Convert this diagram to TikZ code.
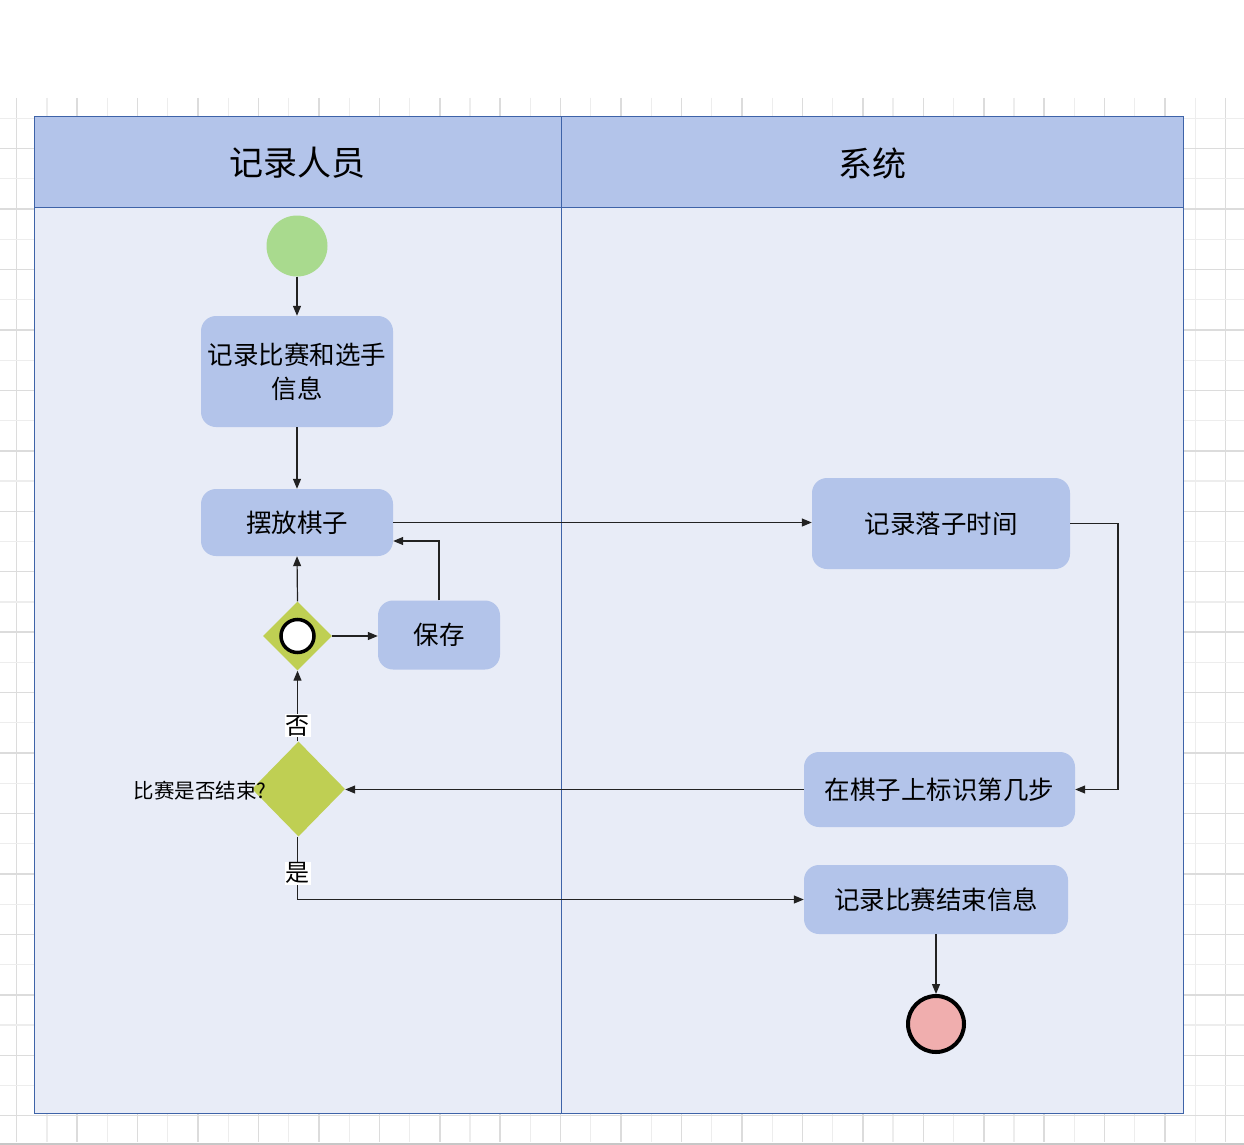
\documentclass[tikz,border=0pt]{standalone}
\usepackage{fontspec}
\setmainfont{Noto Sans CJK SC}
\usetikzlibrary{shapes.geometric,arrows.meta}

\definecolor{gridmajor}{HTML}{DCDCDC}
\definecolor{gridminor}{HTML}{EDEDED}
\definecolor{poolline}{HTML}{3E63A8}
\definecolor{headfill}{HTML}{B3C4EA}
\definecolor{lanefill}{HTML}{E8ECF7}
\definecolor{startfill}{HTML}{A9DA8E}
\definecolor{gatefill}{HTML}{BFCF53}
\definecolor{endfill}{HTML}{F0AEAE}
\definecolor{wire}{HTML}{222222}

\tikzset{
  actbox/.style={draw=none, fill=headfill, rounded corners=15pt, align=center,
    inner sep=0pt, font=\fontsize{25.5}{34}\selectfont},
  gate/.style={diamond, fill=gatefill, inner sep=0pt, aspect=1},
  wirearrow/.style={draw=wire, line width=1.2pt,
    -{Triangle[length=10pt,width=8pt]}},
  lanetitle/.style={font=\fontsize{34}{40}\selectfont},
  guardlabel/.style={fill=white, inner sep=1pt, font=\fontsize{24}{26}\selectfont},
}

\begin{document}
\begin{tikzpicture}[x=1pt,y=-1pt]
\useasboundingbox (0,0) rectangle (1244,1145);
\fill[white] (0,0) rectangle (1244,1145);

% background grid
\foreach \k in {0,...,40}{
  \pgfmathsetmacro{\gx}{16.7+30.22*\k}
  \pgfmathparse{mod(\k,2)==0 ? 1 : 0}
  \ifnum\pgfmathresult=1
    \draw[gridmajor, line width=1.5pt] (\gx,98) -- (\gx,1142);
  \else
    \draw[gridminor, line width=1.2pt] (\gx,98) -- (\gx,1142);
  \fi
}
\foreach \k in {0,...,33}{
  \pgfmathsetmacro{\gy}{1115.7-30.22*\k}
  \pgfmathparse{mod(\k,2)==0 ? 1 : 0}
  \ifnum\pgfmathresult=1
    \draw[gridmajor, line width=1.5pt] (0,\gy) -- (1244,\gy);
  \else
    \draw[gridminor, line width=1.2pt] (0,\gy) -- (1244,\gy);
  \fi
}
\fill[black!22] (0,1142.5) rectangle (1244,1145);

% swimlane pool
\fill[lanefill] (34.5,116.5) rectangle (1183.5,1113.5);
\fill[headfill] (34.5,116.5) rectangle (1183.5,207.5);
\draw[poolline, line width=1.2pt] (34.5,207.5) -- (1183.5,207.5);
\draw[poolline, line width=1.2pt] (561.5,116.5) -- (561.5,1113.5);
\draw[poolline, line width=1.5pt] (34.5,116.5) rectangle (1183.5,1113.5);
\node[lanetitle] (laneA) at (297.5,163) {记录人员};
\node[lanetitle] (laneB) at (872,163) {系统};

% activity nodes
\node[circle, fill=startfill, minimum size=61pt, inner sep=0pt] (start) at (297,246) {};
\node[actbox, minimum width=192pt, minimum height=111pt] (info) at (297,371.5) {记录比赛和选手\\信息};
\node[actbox, minimum width=192pt, minimum height=67pt] (place) at (297,522.5) {摆放棋子};
\node[gate, minimum size=69pt] (merge) at (297.5,636) {};
\node[circle, draw=black, line width=3.5pt, fill=white, minimum size=33pt, inner sep=0pt] (mergeinner) at (297.5,636) {};
\node[actbox, minimum width=122pt, minimum height=69pt] (save) at (439,635) {保存};
\node[gate, minimum width=93pt, minimum height=95pt] (decide) at (298.5,789) {};
\node[anchor=center, inner sep=0pt, font=\fontsize{20.5}{24}\selectfont] (decidelabel) at (200,791) {比赛是否结束?};
\node[actbox, minimum width=258pt, minimum height=91pt] (stamp) at (941,523.5) {记录落子时间};
\node[actbox, minimum width=271pt, minimum height=75pt] (mark) at (939.5,789.5) {在棋子上标识第几步};
\node[actbox, minimum width=264pt, minimum height=69pt] (finish) at (936,899.5) {记录比赛结束信息};
\node[circle, draw=black, line width=4pt, fill=endfill, minimum size=56pt, inner sep=0pt] (stop) at (936,1024) {};

% connectors
\coordinate (loopback) at (0,541);
\coordinate (elbow) at (1118,0);
\draw[wirearrow] (start) -- (info);
\draw[wirearrow] (info) -- (place);
\draw[wirearrow] (place.east) -- (place.east -| stamp.west);
\draw[wirearrow] (stamp.east) -- (stamp.east -| elbow) |- (mark.east);
\draw[wirearrow] (mark.west) -- (mark.west -| decide.east);
\draw[wirearrow] (decide.north -| merge.south) -- node[guardlabel, pos=0.22] (nolabel) {否} (merge.south);
\draw[wirearrow] (merge.east) -- (merge.east -| save.west);
\draw[wirearrow] (save.north) |- (place.east |- loopback);
\draw[wirearrow] (merge.north) -- (place.south);
\draw[wirearrow] (decide.south -| merge.south) -- node[guardlabel, pos=0.58] (yeslabel) {是} (merge.south |- finish.west) -- (finish.west);
\draw[wirearrow] (finish.south) -- (stop.north);
\end{tikzpicture}
\end{document}
